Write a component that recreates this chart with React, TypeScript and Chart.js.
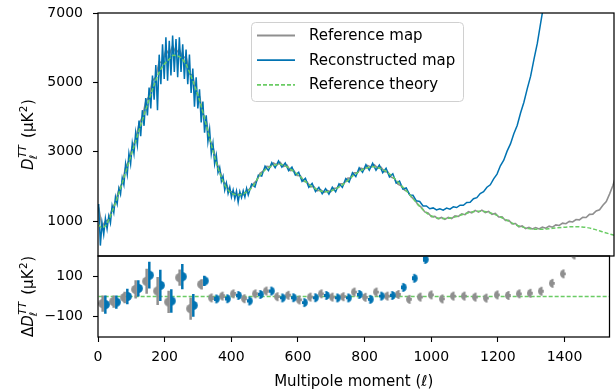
import React, { useEffect, useRef } from "react";
import { Chart, registerables } from "chart.js";

Chart.register(...registerables);

const FONT = "'DejaVu Sans', 'Liberation Sans', sans-serif";
const BLUE = "#0173b2";
const GRAY = "#8f8f8f";
const GREEN = "#6acc64";
const W = 615;
const H = 391;
const X_MAX = 1535;

// ---------- tick labels ----------
const xTicks = [0, 200, 400, 600, 800, 1000, 1200, 1400];
const yTicksMain = [1000, 3000, 5000, 7000];
const yTicksRes = [-100, 100];

// ---------- reference theory ----------
const theoryEll = [2, 10, 20, 30, 45, 60, 75, 90, 105, 120, 135, 150, 165, 180, 195, 210, 225, 240,
  260, 280, 300, 320, 340, 360, 380, 400, 420, 440, 460, 480, 500, 520, 540, 560, 580, 600, 620, 640,
  660, 680, 700, 720, 740, 760, 780, 800, 820, 840, 860, 880, 900, 920, 940, 960, 980, 1000, 1020,
  1040, 1060, 1080, 1100, 1120, 1140, 1160, 1180, 1200, 1220, 1240, 1260, 1280, 1300, 1320, 1340,
  1360, 1380, 1400, 1420, 1440, 1460, 1480, 1500, 1520, 1540];
const theoryVal = [900, 820, 850, 1000, 1350, 1750, 2190, 2650, 3100, 3550, 4000, 4450, 4880, 5250,
  5500, 5650, 5780, 5750, 5550, 5100, 4550, 3850, 3100, 2450, 2000, 1800, 1760, 1830, 2000, 2300,
  2500, 2600, 2640, 2580, 2450, 2300, 2120, 1980, 1880, 1850, 1900, 2000, 2150, 2320, 2450, 2540,
  2570, 2520, 2420, 2250, 2050, 1850, 1620, 1400, 1220, 1120, 1080, 1085, 1120, 1180, 1240, 1280,
  1290, 1260, 1200, 1110, 1010, 910, 840, 790, 770, 770, 785, 805, 825, 840, 845, 835, 810, 760,
  700, 640, 585];

// ---------- reference map (sampled every 10 multipoles from l = 2) ----------
const grayStart = 2;
const grayStep = 10;
const grayVal = [1400, 850, 1000, 1050, 1350, 1550, 1900, 2100, 2550, 2750, 3150, 3350, 3800, 4000,
  4450, 4600, 5050, 5150, 5600, 5550, 5950, 5800, 6050, 5850, 5950, 5700, 5750, 5250, 5200, 4700,
  4600, 4100, 3900, 3350, 3150, 2700, 2500, 2150, 2050, 1850, 1850, 1750, 1800, 1760, 1880, 1930,
  2080, 2170, 2380, 2450, 2580, 2570, 2680, 2620, 2700, 2580, 2620, 2460, 2470, 2320, 2310, 2150,
  2130, 1990, 2000, 1880, 1910, 1830, 1890, 1850, 1950, 1950, 2080, 2090, 2240, 2250, 2400, 2400,
  2530, 2500, 2610, 2560, 2630, 2530, 2560, 2430, 2420, 2270, 2230, 2070, 2020, 1900, 1850, 1700,
  1620, 1480, 1400, 1270, 1240, 1130, 1140, 1070, 1110, 1055, 1115, 1080, 1155, 1140, 1215, 1190,
  1275, 1245, 1315, 1265, 1320, 1250, 1285, 1200, 1225, 1125, 1130, 1025, 1030, 925, 935, 840, 865,
  790, 825, 780, 820, 780, 830, 800, 860, 830, 895, 880, 945, 930, 995, 980, 1050, 1040, 1115, 1110,
  1200, 1205, 1300, 1330, 1460, 1570, 1790, 2040, 2350];

// ---------- reconstructed map ----------
const blueLowStart = 2;
const blueLowStep = 5;
const blueLowVal = [1500, 300, 950, 620, 1080, 780, 1150, 950, 1450, 1250, 1700, 1500, 1950, 1780,
  2250, 2050, 2650, 2350, 2950, 2650, 3250, 2950, 3550, 3200, 3900, 3450, 4200, 3750, 4550, 4050,
  4850, 4250, 5200, 4500, 5500, 4200, 5800, 4950, 6100, 5100, 6300, 5050, 6200, 5200, 6350, 5300,
  6250, 5150, 6300, 5300, 6100, 5100, 5950, 4950, 5800, 4700, 5400, 4300, 5150, 4250, 4800, 3850,
  4450, 3550, 4050, 3300, 3650, 2950, 3250, 2650, 2900, 2400, 2550, 2150, 2300, 1900, 2100, 1800,
  1980, 1700, 1900, 1650, 1870, 1550, 1850, 1680, 1880, 1700, 1950, 1760];
const blueHighStart = 457;
const blueHighStep = 10;
const blueHighVal = [2070, 1990, 2330, 2300, 2590, 2460, 2690, 2540, 2740, 2560, 2680, 2460, 2560,
  2330, 2410, 2150, 2240, 1980, 2090, 1860, 1980, 1790, 1940, 1780, 1980, 1850, 2080, 1980, 2230,
  2130, 2400, 2290, 2540, 2410, 2630, 2470, 2670, 2470, 2620, 2400, 2530, 2280, 2370, 2100, 2160,
  1930, 1960, 1760, 1750, 1590, 1570, 1440, 1440, 1360, 1385, 1325, 1360, 1320, 1380, 1350, 1415,
  1395, 1465, 1460, 1540, 1550, 1650, 1680, 1800, 1850, 1980, 2050, 2220, 2360, 2600, 2760, 3020,
  3230, 3520, 3760, 4120, 4430, 4820, 5180, 5670, 6130, 6720, 7300];

// ---------- binned residuals ----------
const binEll = [18, 51, 84, 117, 150, 183, 216, 249, 282, 315, 348, 381, 414, 447, 480, 513, 546,
  579, 612, 645, 678, 711, 744, 777, 810, 843, 876, 909, 942, 975, 1008, 1041, 1074, 1107, 1140,
  1173, 1206, 1239, 1272, 1305, 1338, 1371, 1404, 1437, 1470, 1503];
const grayRes = [-35, -25, -5, 35, 75, 27, -27, 93, -60, 60, -7, 2, 13, -11, 13, 27, -1, 6, -17, -3,
  13, -3, -1, 22, -4, 22, 2, 10, -14, -3, 8, -12, 2, 2, -3, -8, 8, 5, 13, 16, 26, 65, 112, 205,
  null, null];
const grayErr = [40, 30, 28, 45, 62, 69, 55, 40, 55, 25, 10, 9, 9, 8, 8, 8, 7, 7, 7, 7, 7, 7, 7, 7,
  7, 7, 7, 7, 7, 7, 7, 7, 7, 7, 7, 7, 7, 7, 7, 7, 7, 7, 7, 7, 7, 7];
const blueRes = [-40, -28, 0, 40, 105, 55, -22, 98, -44, 77, -12, -11, 5, -22, 10, 27, -7, -6, -30,
  -6, 5, -7, -7, 10, -14, 2, 5, 45, 90, 183, null, null, null, null, null, null, null, null, null,
  null, null, null, null, null, null, null];
const blueErr = [45, 33, 38, 40, 66, 77, 58, 62, 56, 25, 10, 9, 9, 8, 8, 8, 7, 7, 7, 7, 7, 7, 7, 7,
  7, 7, 8, 9, 10, 12, null, null, null, null, null, null, null, null, null, null, null, null, null,
  null, null, null];

const MARKER_SHIFT = 4;

// ---------- helpers ----------
const onGrid = (start: number, step: number, vals: number[]) =>
  vals.map((y, i) => ({ x: start + i * step, y }));
const pairs = (xs: number[], ys: (number | null)[]) => xs.map((x, i) => ({ x, y: ys[i] }));

function halfCircle(color: string, side: "left" | "right", r: number) {
  const c = document.createElement("canvas");
  const s = Math.ceil(2 * r + 2);
  c.width = s;
  c.height = s;
  const g = c.getContext("2d")!;
  g.fillStyle = color;
  g.beginPath();
  if (side === "left") g.arc(s / 2, s / 2, r, Math.PI / 2, (3 * Math.PI) / 2);
  else g.arc(s / 2, s / 2, r, -Math.PI / 2, Math.PI / 2);
  g.closePath();
  g.fill();
  return c;
}

const framePlugin = {
  id: "frame",
  afterDraw(chart: any) {
    const { ctx, chartArea: a } = chart;
    ctx.save();
    ctx.strokeStyle = "#000";
    ctx.lineWidth = 1.25;
    ctx.strokeRect(a.left, a.top, a.right - a.left, a.bottom - a.top);
    ctx.restore();
  },
};

const errorBarPlugin = {
  id: "errbars",
  beforeDatasetDraw(chart: any, args: any) {
    const ds = chart.data.datasets[args.index];
    if (!ds.errors) return;
    const { ctx, chartArea: a, scales } = chart;
    ctx.save();
    ctx.beginPath();
    ctx.rect(a.left, a.top, a.right - a.left, a.bottom - a.top);
    ctx.clip();
    ctx.strokeStyle = ds.errColor;
    ctx.lineWidth = 2.5;
    ds.data.forEach((p: any, i: number) => {
      const e = ds.errors[i];
      if (p.y == null || e == null) return;
      const x = scales.x.getPixelForValue(p.x);
      ctx.beginPath();
      ctx.moveTo(x, scales.y.getPixelForValue(p.y - e));
      ctx.lineTo(x, scales.y.getPixelForValue(p.y + e));
      ctx.stroke();
    });
    ctx.restore();
  },
};

function yLabelPlugin(prefix: string) {
  return {
    id: "ylabel",
    afterDraw(chart: any) {
      const { ctx, chartArea: a } = chart;
      const cy = (a.top + a.bottom) / 2;
      ctx.save();
      ctx.translate(33, cy);
      ctx.rotate(-Math.PI / 2);
      ctx.fillStyle = "#000";
      ctx.textBaseline = "alphabetic";
      ctx.textAlign = "left";
      const big = `15px ${FONT}`;
      const bigI = `italic 15px ${FONT}`;
      const smI = `italic 10.5px ${FONT}`;
      const sm = `10.5px ${FONT}`;
      const m = (f: string, t: string) => {
        ctx.font = f;
        return ctx.measureText(t).width;
      };
      const wPre = prefix ? m(big, prefix) : 0;
      const wD = m(bigI, "D");
      const wTT = m(smI, "TT");
      const wL = m(smI, "ℓ");
      const wGap = m(big, " ") * 1.6;
      const wOpen = m(big, "(μK");
      const w2 = m(sm, "2");
      const wClose = m(big, ")");
      const total = wPre + wD + Math.max(wTT, wL) + wGap + wOpen + w2 + 1 + wClose;
      let x = -total / 2;
      if (prefix) {
        ctx.font = big;
        ctx.fillText(prefix, x, 0);
        x += wPre;
      }
      ctx.font = bigI;
      ctx.fillText("D", x, 0);
      x += wD;
      ctx.font = smI;
      ctx.fillText("TT", x + 0.5, -7);
      ctx.fillText("ℓ", x - 1, 3.5);
      x += Math.max(wTT, wL) + wGap;
      ctx.font = big;
      ctx.fillText("(μK", x, 0);
      x += wOpen;
      ctx.font = sm;
      ctx.fillText("2", x + 0.5, -6);
      x += w2 + 1;
      ctx.font = big;
      ctx.fillText(")", x, 0);
      ctx.restore();
    },
  };
}

const legendPlugin = {
  id: "customLegend",
  afterDraw(chart: any) {
    const { ctx, chartArea: a } = chart;
    const bx = a.left + 153;
    const by = a.top + 9;
    const bw = 212;
    const bh = 79;
    ctx.save();
    ctx.beginPath();
    ctx.roundRect(bx + 0.5, by + 0.5, bw, bh, 4);
    ctx.fillStyle = "rgba(255,255,255,0.85)";
    ctx.fill();
    ctx.strokeStyle = "#d0d0d0";
    ctx.lineWidth = 1;
    ctx.stroke();
    const items = chart.data.datasets
      .filter((d: any) => d.legendRank != null)
      .sort((p: any, q: any) => p.legendRank - q.legendRank);
    items.forEach((d: any, i: number) => {
      const y = by + 13.5 + i * 24.7;
      ctx.beginPath();
      ctx.setLineDash(d.borderDash || []);
      ctx.strokeStyle = d.borderColor;
      ctx.lineWidth = 1.8;
      ctx.moveTo(bx + 6, y);
      ctx.lineTo(bx + 44, y);
      ctx.stroke();
      ctx.setLineDash([]);
      ctx.fillStyle = "#000";
      ctx.font = `15px ${FONT}`;
      ctx.textBaseline = "middle";
      ctx.textAlign = "left";
      ctx.fillText(d.label, bx + 58, y + 0.5);
    });
    ctx.restore();
  },
};

// small lineHeight keeps Chart.js from reserving extra vertical room for the y tick labels
const yTickFont = { family: FONT, size: 14, lineHeight: 0.4 };
const xTickFont = { family: FONT, size: 14 };
const gridOpts = {
  drawOnChartArea: false,
  drawTicks: true,
  tickLength: 5,
  tickWidth: 1.1,
  tickColor: "#000",
};
const plainFmt = (v: any) => (Number(v) < 0 ? "\u2212" + Math.abs(Number(v)) : String(v));

export default function App() {
  const topRef = useRef<HTMLCanvasElement>(null);
  const botRef = useRef<HTMLCanvasElement>(null);

  useEffect(() => {
    const blueData = [
      ...onGrid(blueLowStart, blueLowStep, blueLowVal),
      ...onGrid(blueHighStart, blueHighStep, blueHighVal),
    ];
    const top = new Chart(topRef.current!, {
      type: "line",
      data: {
        datasets: [
          {
            label: "Reference theory",
            data: pairs(theoryEll, theoryVal),
            borderColor: GREEN,
            borderWidth: 1.5,
            borderDash: [4, 2],
            pointRadius: 0,
            cubicInterpolationMode: "monotone",
            legendRank: 2,
          } as any,
          {
            label: "Reconstructed map",
            data: blueData,
            borderColor: BLUE,
            borderWidth: 1.5,
            pointRadius: 0,
            legendRank: 1,
          } as any,
          {
            label: "Reference map",
            data: onGrid(grayStart, grayStep, grayVal),
            borderColor: GRAY,
            borderWidth: 1.6,
            pointRadius: 0,
            legendRank: 0,
          } as any,
        ],
      },
      options: {
        responsive: false,
        animation: false,
        devicePixelRatio: 1,
        events: [],
        layout: { padding: { top: 13, right: 1, bottom: H - 256, left: 0 } },
        plugins: { legend: { display: false }, tooltip: { enabled: false } },
        scales: {
          x: { type: "linear", min: 0, max: X_MAX, display: false },
          y: {
            type: "linear",
            min: 0,
            max: 7000,
            afterBuildTicks: (s: any) => {
              s.ticks = yTicksMain.map((v) => ({ value: v }));
            },
            afterFit: (s: any) => {
              s.width = 98;
            },
            ticks: { font: yTickFont, color: "#000", padding: 10, callback: plainFmt },
            grid: gridOpts,
            border: { display: false },
          },
        },
      } as any,
      plugins: [framePlugin, legendPlugin, yLabelPlugin("")],
    });

    const bot = new Chart(botRef.current!, {
      type: "line",
      data: {
        datasets: [
          {
            label: "blue residual",
            data: pairs(binEll.map((l) => l + MARKER_SHIFT), blueRes),
            showLine: false,
            pointStyle: halfCircle(BLUE, "right", 4.5),
            pointRadius: 4.5,
            errors: blueErr,
            errColor: BLUE,
          } as any,
          {
            label: "gray residual",
            data: pairs(binEll.map((l) => l - MARKER_SHIFT), grayRes),
            showLine: false,
            pointStyle: halfCircle(GRAY, "left", 4.5),
            pointRadius: 4.5,
            errors: grayErr,
            errColor: GRAY,
          } as any,
          {
            label: "theory residual",
            data: pairs(theoryEll, theoryVal.map((v) => v - v)),
            borderColor: GREEN,
            borderWidth: 1.5,
            borderDash: [4, 2],
            pointRadius: 0,
          } as any,
        ],
      },
      options: {
        responsive: false,
        animation: false,
        devicePixelRatio: 1,
        events: [],
        layout: { padding: { top: 256, right: 1, bottom: 0, left: 0 } },
        plugins: { legend: { display: false }, tooltip: { enabled: false } },
        scales: {
          x: {
            type: "linear",
            min: 0,
            max: X_MAX,
            afterBuildTicks: (s: any) => {
              s.ticks = xTicks.map((v) => ({ value: v }));
            },
            afterFit: (s: any) => {
              s.height = 54;
            },
            ticks: { font: xTickFont, color: "#000", padding: 7, maxRotation: 0, callback: plainFmt },
            grid: gridOpts,
            border: { display: false },
            title: {
              display: true,
              text: "Multipole moment (ℓ)",
              font: { family: FONT, size: 15 },
              color: "#000",
              padding: { top: 0, bottom: 0 },
            },
          },
          y: {
            type: "linear",
            min: -200,
            max: 200,
            afterBuildTicks: (s: any) => {
              s.ticks = yTicksRes.map((v) => ({ value: v }));
            },
            afterFit: (s: any) => {
              s.width = 98;
            },
            ticks: { font: yTickFont, color: "#000", padding: 10, callback: plainFmt },
            grid: gridOpts,
            border: { display: false },
          },
        },
      } as any,
      plugins: [errorBarPlugin, framePlugin, yLabelPlugin("Δ")],
    });

    return () => {
      top.destroy();
      bot.destroy();
    };
  }, []);

  return (
    <div style={{ position: "absolute", left: 0, top: 0, width: W, height: H, background: "#fff" }}>
      <canvas
        ref={topRef}
        width={W}
        height={H}
        style={{ position: "absolute", left: 0, top: 0, width: W, height: H }}
      />
      <canvas
        ref={botRef}
        width={W}
        height={H}
        style={{ position: "absolute", left: 0, top: 0, width: W, height: H }}
      />
    </div>
  );
}
